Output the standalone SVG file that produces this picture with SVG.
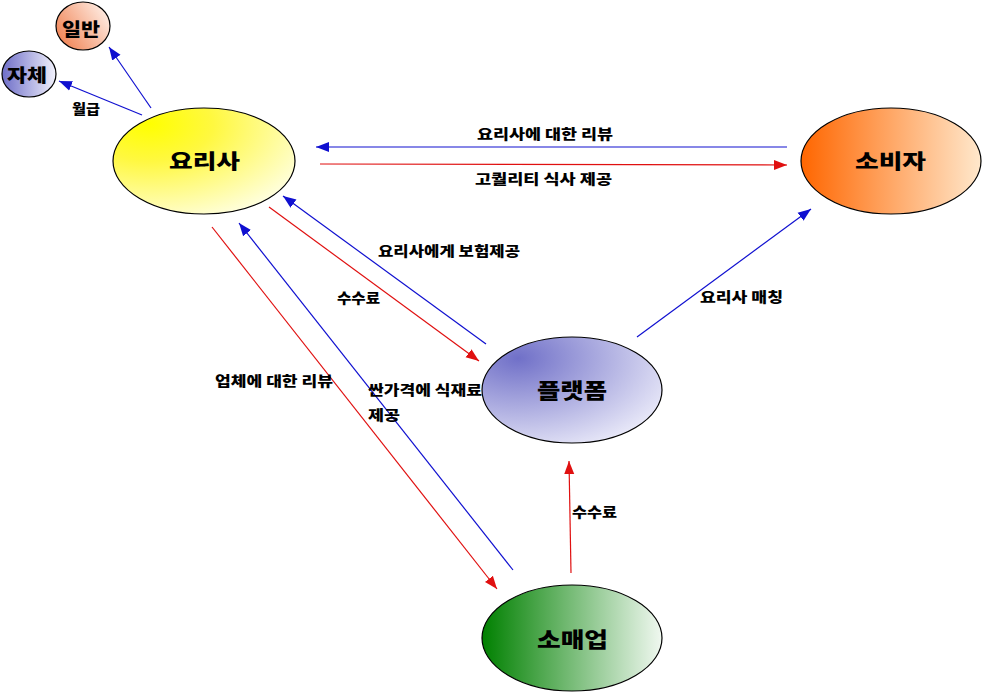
<svg xmlns="http://www.w3.org/2000/svg" width="990" height="700" viewBox="0 0 990 700">
<style>
.node{stroke:#000;stroke-width:1.2}
.nt{font-family:"Noto Sans CJK KR","Noto Sans",sans-serif;font-weight:900;fill:#000;text-anchor:start}
.lb{font-family:"Noto Sans CJK KR","Noto Sans",sans-serif;font-weight:900;font-size:14px;fill:#000}
.b{stroke:#1010D0;stroke-width:1.2;fill:none;marker-end:url(#ab)}
.r{stroke:#E01010;stroke-width:1.2;fill:none;marker-end:url(#ar)}
</style>
<defs>
<marker id="ab" markerUnits="userSpaceOnUse" markerWidth="14" markerHeight="12" refX="13" refY="5" orient="auto" viewBox="0 0 14 10"><path d="M0,0 L13,5 L0,10 Z" fill="#1010D0"/></marker>
<marker id="ar" markerUnits="userSpaceOnUse" markerWidth="14" markerHeight="12" refX="13" refY="5" orient="auto" viewBox="0 0 14 10"><path d="M0,0 L13,5 L0,10 Z" fill="#E01010"/></marker>
<radialGradient id="gY" cx="0.2" cy="0.15" r="1" fx="0.2" fy="0.15"><stop offset="0" stop-color="#FFFF00"/><stop offset="0.35" stop-color="#FFF840"/><stop offset="1" stop-color="#FFFFE8"/></radialGradient>
<radialGradient id="gP" cx="0.2" cy="0.2" r="1" fx="0.2" fy="0.2"><stop offset="0" stop-color="#7070C8"/><stop offset="1" stop-color="#F2F2FC"/></radialGradient>
<linearGradient id="gO" x1="0" y1="0" x2="1" y2="0"><stop offset="0" stop-color="#FF6600"/><stop offset="1" stop-color="#FFE8CC"/></linearGradient>
<linearGradient id="gG" x1="0" y1="0" x2="1" y2="0"><stop offset="0" stop-color="#008000"/><stop offset="1" stop-color="#F0F8F0"/></linearGradient>
<linearGradient id="gS" x1="0" y1="0.8" x2="1" y2="0.2"><stop offset="0" stop-color="#F08050"/><stop offset="1" stop-color="#FFF0E8"/></linearGradient>
<linearGradient id="gV" x1="0" y1="0" x2="1" y2="0"><stop offset="0" stop-color="#6E6EC8"/><stop offset="1" stop-color="#F2F2FC"/></linearGradient>
</defs>

<g id="connectors">
<line class="b" x1="151" y1="108" x2="109" y2="47"/>
<line class="b" x1="142" y1="115" x2="59" y2="81"/>
<line class="b" x1="787" y1="147" x2="316" y2="147"/>
<line class="r" x1="320" y1="164" x2="787" y2="165"/>
<line class="b" x1="486" y1="344" x2="283" y2="196"/>
<line class="r" x1="269" y1="207" x2="479" y2="361"/>
<line class="r" x1="212" y1="227" x2="497" y2="589"/>
<line class="b" x1="513" y1="570" x2="239" y2="223"/>
<line class="b" x1="637" y1="337" x2="811" y2="209"/>
<line class="r" x1="571" y1="573" x2="569" y2="461"/>
</g>

<g id="labels">
<text class="lb" x="72" y="114" textLength="28" lengthAdjust="spacingAndGlyphs">월급</text>
<text class="lb" x="477" y="139" textLength="136" lengthAdjust="spacingAndGlyphs">요리사에 대한 리뷰</text>
<text class="lb" x="475" y="184" textLength="137" lengthAdjust="spacingAndGlyphs">고퀄리티 식사 제공</text>
<text class="lb" x="378" y="256" textLength="142" lengthAdjust="spacingAndGlyphs">요리사에게 보험제공</text>
<text class="lb" x="337" y="303" textLength="43" lengthAdjust="spacingAndGlyphs">수수료</text>
<text class="lb" x="215" y="386" textLength="118" lengthAdjust="spacingAndGlyphs">업체에 대한 리뷰</text>
<text class="lb" x="368" y="395" textLength="114" lengthAdjust="spacingAndGlyphs">싼가격에 식재료</text>
<text class="lb" x="368" y="420" textLength="32" lengthAdjust="spacingAndGlyphs">제공</text>
<text class="lb" x="700" y="302" textLength="83" lengthAdjust="spacingAndGlyphs">요리사 매칭</text>
<text class="lb" x="572" y="517" textLength="45" lengthAdjust="spacingAndGlyphs">수수료</text>
</g>

<g id="node-ilban">
<ellipse class="node" cx="83" cy="26" rx="27" ry="24" fill="url(#gS)"/>
<text class="nt" x="62" y="36" font-size="18" textLength="38" lengthAdjust="spacingAndGlyphs">일반</text>
</g>
<g id="node-jache">
<ellipse class="node" cx="29" cy="74" rx="27" ry="23" fill="url(#gV)"/>
<text class="nt" x="7" y="82" font-size="18" textLength="40" lengthAdjust="spacingAndGlyphs">자체</text>
</g>
<g id="node-chef">
<ellipse class="node" cx="204" cy="161" rx="91" ry="53" fill="url(#gY)"/>
<text class="nt" x="169" y="169" font-size="20" textLength="71" lengthAdjust="spacingAndGlyphs">요리사</text>
</g>
<g id="node-consumer">
<ellipse class="node" cx="891" cy="161" rx="90" ry="53" fill="url(#gO)"/>
<text class="nt" x="855" y="169" font-size="20" textLength="71" lengthAdjust="spacingAndGlyphs">소비자</text>
</g>
<g id="node-platform">
<ellipse class="node" cx="572" cy="390" rx="90" ry="53" fill="url(#gP)"/>
<text class="nt" x="537" y="398" font-size="21" textLength="70" lengthAdjust="spacingAndGlyphs">플랫폼</text>
</g>
<g id="node-retail">
<ellipse class="node" cx="572" cy="638" rx="90" ry="53" fill="url(#gG)"/>
<text class="nt" x="537" y="647" font-size="21" textLength="71" lengthAdjust="spacingAndGlyphs">소매업</text>
</g>
</svg>
